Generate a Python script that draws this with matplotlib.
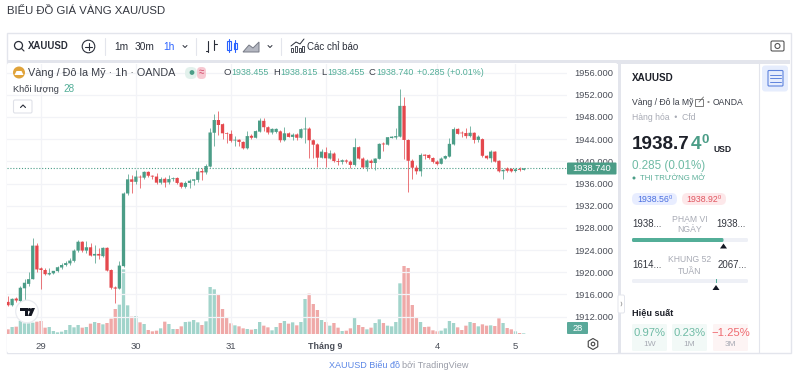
import matplotlib
matplotlib.use("Agg")
import matplotlib.pyplot as plt
from matplotlib.patches import Rectangle, FancyBboxPatch, Circle, Polygon, RegularPolygon

plt.rcParams['font.family'] = ['Liberation Sans', 'DejaVu Sans']

# ---------- data ----------
opens = [1914.65,1914.05,1915.25,1914.8,1917.1,1917.9,1918.75,1924.8,1920.7,1920.4,
 1919.6,1919.8,1920.2,1920.85,1921.3,1921.6,1922.05,1923.9,1925.5,1923.9,
 1924.5,1923.0,1923.3,1922.9,1924.4,1920.4,1917.25,1917.05,1921.1,1934.2,
 1936.75,1936.3,1937.2,1937.05,1938.1,1937.4,1937.25,1936.15,1936.85,1936.2,
 1936.8,1937.0,1936.15,1935.4,1936.1,1936.5,1936.65,1938.25,1938.0,1939.05,
 1945.15,1947.45,1946.7,1945.05,1944.95,1943.75,1943.9,1943.5,1942.35,1944.6,
 1944.25,1945.35,1947.3,1946.15,1945.2,1945.3,1945.4,1943.8,1945.05,1944.4,
 1944.85,1944.25,1945.75,1945.9,1943.8,1943.05,1940.65,1941.65,1940.5,1941.4,
 1940.05,1939.9,1940.15,1939.95,1939.35,1942.55,1940.5,1938.9,1940.1,1939.7,
 1940.45,1943.2,1943.0,1944.2,1944.3,1944.45,1950.0,1943.85,1940.1,1938.85,
 1938.2,1941.2,1941.15,1940.6,1939.95,1939.55,1940.5,1940.85,1943.05,1945.85,
 1945.15,1945.1,1944.55,1945.15,1943.85,1944.0,1941.0,1940.55,1941.75,1940.1,
 1938.2,1938.7,1938.65,1938.25,1938.6,1938.455]
highs = [1915.7,1915.4,1915.55,1917.5,1918.7,1920.1,1926.1,1925.2,1921.0,1920.7,
 1920.7,1920.3,1921.1,1921.6,1922.0,1922.5,1924.1,1925.9,1925.7,1925.7,
 1925.3,1924.9,1924.3,1924.6,1924.6,1920.5,1917.5,1922.0,1934.5,1937.7,
 1937.5,1938.4,1937.5,1938.3,1938.2,1937.5,1937.85,1937.25,1937.1,1937.5,
 1937.2,1937.1,1936.3,1936.5,1936.8,1936.9,1938.75,1938.75,1939.5,1946.0,
 1948.6,1949.15,1946.85,1945.2,1945.65,1944.55,1943.95,1943.7,1945.5,1944.9,
 1945.65,1947.75,1947.8,1946.4,1945.95,1946.0,1945.65,1946.25,1945.35,1945.15,
 1945.05,1945.95,1947.95,1946.25,1943.95,1943.25,1942.2,1942.5,1942.05,1941.65,
 1940.55,1940.5,1940.4,1940.25,1944.15,1942.75,1940.75,1940.35,1940.5,1940.6,
 1943.25,1943.55,1944.45,1944.55,1945.95,1953.1,1951.55,1944.0,1940.35,1939.35,
 1941.55,1941.35,1941.35,1940.75,1940.15,1940.7,1941.15,1944.15,1946.25,1946.0,
 1945.55,1945.95,1946.4,1945.35,1944.7,1944.15,1941.15,1942.05,1941.85,1940.25,
 1938.7,1939.05,1938.85,1938.85,1938.9,1938.815]
lows = [1913.9,1913.9,1914.6,1914.6,1915.0,1917.5,1918.7,1920.1,1917.0,1919.5,
 1919.5,1919.65,1920.1,1920.65,1921.1,1921.3,1921.9,1923.7,1923.7,1923.5,
 1922.9,1921.7,1922.4,1922.8,1920.25,1916.9,1914.45,1916.9,1921.0,1933.9,
 1934.2,1935.9,1935.1,1936.9,1937.25,1936.75,1935.9,1935.9,1935.45,1935.9,
 1936.5,1935.9,1935.25,1935.1,1935.1,1935.75,1936.35,1936.65,1937.7,1939.0,
 1942.7,1944.75,1944.1,1943.25,1943.5,1942.75,1942.75,1942.2,1942.2,1944.05,
 1944.15,1945.3,1945.55,1944.95,1944.95,1945.1,1943.4,1943.6,1944.3,1943.85,
 1943.85,1944.15,1943.25,1940.55,1940.55,1939.05,1940.55,1939.05,1940.4,1939.95,
 1939.35,1939.5,1939.65,1938.75,1939.15,1940.35,1938.75,1938.3,1938.75,1938.45,
 1940.35,1941.95,1942.9,1944.15,1944.1,1944.35,1940.4,1934.55,1936.75,1937.7,
 1937.4,1940.35,1940.5,1939.75,1939.4,1939.45,1940.35,1940.7,1942.95,1944.85,
 1944.3,1944.15,1944.45,1943.25,1943.55,1940.85,1940.35,1939.95,1939.8,1938.15,
 1936.8,1938.05,1938.05,1938.1,1938.25,1938.455]
closes = [1914.05,1915.2,1914.9,1917.2,1918.1,1918.75,1924.8,1920.5,1920.4,1919.65,
 1919.85,1920.25,1920.9,1921.3,1921.65,1922.1,1923.9,1925.5,1923.9,1924.5,
 1923.0,1923.3,1923.0,1924.4,1920.3,1917.2,1917.05,1921.2,1934.2,1936.75,
 1936.3,1937.25,1937.1,1938.1,1937.4,1937.25,1936.15,1936.8,1936.15,1936.8,
 1936.95,1936.1,1935.4,1936.1,1936.5,1936.75,1938.15,1938.0,1939.15,1945.2,
 1947.45,1946.55,1945.05,1944.95,1943.7,1943.9,1943.5,1942.35,1944.55,1944.25,
 1945.45,1947.35,1946.15,1945.2,1945.85,1945.85,1943.8,1945.05,1944.4,1944.8,
 1944.25,1945.8,1945.9,1943.8,1943.0,1940.65,1941.75,1940.55,1941.45,1940.05,
 1939.9,1940.2,1939.95,1939.35,1942.55,1940.5,1938.9,1940.15,1939.7,1940.5,
 1943.15,1943.05,1944.35,1944.45,1944.55,1950.0,1943.85,1940.1,1938.85,1938.2,
 1941.15,1941.0,1940.6,1939.9,1939.5,1940.5,1940.95,1943.15,1945.8,1944.95,
 1945.05,1944.55,1945.15,1943.85,1944.45,1941.0,1940.55,1941.75,1939.95,1938.2,
 1938.45,1938.3,1938.2,1938.55,1938.45,1938.74]
volumes = [196,294,308,560,448,448,476,518,546,266,
 294,126,70,98,168,378,280,378,266,294,
 434,504,462,406,462,644,1050,1232,2716,1204,
 728,756,490,420,168,112,140,238,518,420,
 210,210,322,504,518,588,490,378,532,1974,
 1876,1652,1050,672,448,364,322,238,210,182,
 210,504,350,280,154,294,462,546,434,490,
 364,504,1470,1694,1260,1008,588,504,350,462,
 266,126,140,238,672,378,294,196,266,462,
 616,462,350,322,504,2128,2856,2772,1218,714,
 504,294,308,154,112,140,238,546,462,280,
 168,350,504,462,322,406,350,364,336,658,
 462,252,196,112,42,28]
price_ticks = [1912,1916,1920,1924,1928,1932,1936,1940,1944,1948,1952,1956]
date_tick_index = [8,31,54,77,104,123]
date_tick_labels = ['29','30','31','Tháng 9','4','5']
last_price = 1938.74
last_volume = 28

# ---------- colours ----------
UP='#4b9d87'; DOWN='#e4484d'; UPV='#a2d4cb'; DOWNV='#efa9a8'
GRID='#f2f3f7'; BORDER='#e3e5ec'; DARK='#2a2e39'; GRAY='#a8abb5'; TXT='#4a4e58'; TEAL='#53ae98'; BLUE='#2962ff'

W,H=800,381
fig=plt.figure(figsize=(W/100,H/100),dpi=100,facecolor='white')
def rect(x0,y0,x1,y1):
    return [x0/W,1-y1/H,(x1-x0)/W,(y1-y0)/H]

# ---------- chart ----------
ax=fig.add_axes(rect(7,64,567,334),zorder=2)
ax.set_facecolor('none')
ax.set_xlim(-0.242,135.5)
ax.set_ylim(1908.86,1957.55)
n=range(len(opens))
axv=ax.twinx()
axv.set_zorder(1)
axv.set_ylim(0,11340)
axv.axis('off')
for s in ax.spines.values(): s.set_visible(False)
ax.yaxis.tick_right()
ax.set_yticks(price_ticks)
ax.set_yticklabels([f'{p:.3f}' for p in price_ticks],fontsize=6.7,color=TXT)
ax.set_xticks(date_tick_index)
ax.set_xticklabels(date_tick_labels,fontsize=6.8,color=TXT)
ax.get_xticklabels()[3].set_fontweight('bold')
ax.get_xticklabels()[3].set_fontsize(6.4)
ax.tick_params(length=0,pad=5,axis='y')
ax.tick_params(length=0,pad=5.5,axis='x')
ax.grid(True,color=GRID,lw=0.9,zorder=0)
ax.set_axisbelow(True)
ax.patch.set_visible(False)
vcol=[UPV if c>=o else DOWNV for o,c in zip(opens,closes)]
for b in axv.bar(list(n),volumes,width=0.8,color=vcol,linewidth=0):
    b.set_snap(False)

ccol=[UP if c>=o else DOWN for o,c in zip(opens,closes)]
ax.vlines(list(n),lows,highs,colors=ccol,lw=0.65,zorder=3,alpha=0.8)
for b in ax.bar(list(n),[max(abs(c-o),0.12) for o,c in zip(opens,closes)],
       bottom=[min(o,c) for o,c in zip(opens,closes)],width=0.8,color=ccol,linewidth=0,zorder=4):
    b.set_snap(False)
ax.axhline(last_price,color=UP,lw=0.8,ls=(0,(1,1.6)),zorder=2)

# ---------- chrome (pixel coordinates) ----------
ov=fig.add_axes([0,0,1,1],zorder=5)
ov.set_xlim(0,W); ov.set_ylim(H,0); ov.axis('off'); ov.patch.set_visible(False)
und=fig.add_axes([0,0,1,1],zorder=0)
und.set_xlim(0,W); und.set_ylim(H,0); und.axis('off')

def T(x,y,s,size=7.6,color=TXT,weight='normal',ha='left',a=ov):
    return a.text(x,y,s,fontsize=size,color=color,fontweight=weight,ha=ha,va='center')
def R(x0,y0,x1,y1,fc,a=und,ec='none',lw=0,rad=0):
    if rad:
        p=FancyBboxPatch((x0+rad,y0+rad),x1-x0-2*rad,y1-y0-2*rad,boxstyle=f'round,pad={rad},rounding_size={rad}',fc=fc,ec=ec,lw=lw)
    else:
        p=Rectangle((x0,y0),x1-x0,y1-y0,fc=fc,ec=ec,lw=lw)
    a.add_patch(p); return p
def L(xs,ys,c=DARK,lw=0.8,a=ov):
    a.plot(xs,ys,color=c,lw=lw,solid_capstyle='round')

# frame
R(6.5,32.5,790.5,353,'white',ec=BORDER,lw=1)
R(7,60,790,63.5,'#e3e5ec')
R(617.5,60,621,353,'#e3e5ec')
R(7,63,617.5,353,'white',rad=2)
L([759,759],[63,353],BORDER,0.8,und)

# title + footer
T(7,11,'BIỂU ĐỒ GIÁ VÀNG XAU/USD',8.2,'#33363f')
T(329,365.5,'XAUUSD Biểu đồ',6.5,'#5a86e6')
T(402.5,365.5,'bởi TradingView',6.6,'#9a9da8')

# toolbar
ov.add_patch(Circle((18.5,45.5),4,fc='none',ec=DARK,lw=0.9)); L([21.5,24],[48.5,51])
T(28,46,'XAUUSD',6.9,DARK,'bold')
ov.add_patch(Circle((88.5,46.5),6.3,fc='none',ec=DARK,lw=0.8)); L([85,92],[46.5,46.5]); L([88.5,88.5],[43,50])
T(114,46.5,'1m',7.3,DARK); T(135,46.5,'30m',7.3,DARK); T(163,46.5,'1h',7.3,BLUE)
L([183,185,187],[45.5,47.5,45.5],DARK,0.7)
L([105,105],[38,55],BORDER,0.8); L([196,196],[38,55],BORDER,0.8); L([280.5,280.5],[38,55],BORDER,0.8)
L([208,208],[41,52]); L([205.5,208],[51,51]); L([214,214],[40,50]); L([214,216.5],[44,44])
R(227,41,231,50,'none',a=ov,ec=BLUE,lw=0.8); L([229,229],[39,52],BLUE,0.8)
R(233.5,43,236.5,49,'none',a=ov,ec=BLUE,lw=0.8); L([235,235],[40,52],BLUE,0.8)
ov.add_patch(Polygon([(243,52),(249,45),(253,48),(259,42),(259,52)],fc='#b4b7c1',ec='#777b86',lw=0.7))
L([268,270,272],[45.5,47.5,45.5],DARK,0.7)
L([291,296,300,304],[46,42,44,39],DARK,0.7)
for xx,yy in [(291,48),(295,46),(299,47.5),(302,45.5)]:
    R(xx,yy,xx+2.4,52,'none',a=ov,ec=DARK,lw=0.6)
T(307,46.5,'Các chỉ báo',7.0,DARK)
R(771,41,784,51,'none',a=ov,ec='#555',lw=0.8,rad=1.5)
ov.add_patch(Circle((777.5,46),2.5,fc='none',ec='#555',lw=0.8))

# legend
ov.add_patch(Circle((19,72.5),6,fc='#e0a33a',ec='none'))
ov.add_patch(Polygon([(14.5,75),(23.5,75),(21.5,71),(16.5,71)],fc='white',ec='none'))
T(28,72.5,'Vàng / Đô la Mỹ · 1h · OANDA',7.8,'#3a3e48')
R(185,67,197,79,'#e2f1ec',a=ov,rad=5.5); R(197,67,206,79,'#f7c9d2',a=ov,rad=4)
ov.add_patch(Circle((192,72.5),2.4,fc=UP,ec='none'))
T(201.5,72.5,'≈',7,'#d34a6a',ha='center')
for kx,k,vx,v in [(223,'O',231.7,'1938.455'),(272.8,'H',280,'1938.815'),(321,'L',327.3,'1938.455'),(368.7,'C',376,'1938.740')]:
    T(kx,72.5,k,6.8,'#3a3e48'); T(vx,72.5,v,6.4,TEAL)
T(417,72.5,'+0.285 (+0.01%)',6.4,TEAL)
T(13,89,'Khối lượng',6.7,'#3a3e48'); T(63,89,'28',7.2,TEAL)
R(13.5,100,32,113,'white',a=ov,ec='#dfe1e8',lw=0.8,rad=1.5)
L([20.5,23,25.5],[107.5,105,107.5],DARK,0.8)

# TV logo
ov.add_patch(Circle((27,311.5),11.3,fc='white',ec='#e9ebf0',lw=0.9))
ov.add_patch(Polygon([(20,308),(27.5,308),(27.5,316),(24.5,316),(24.5,311),(20,311)],fc='#131722'))
ov.add_patch(Circle((29.5,309.7),1.7,fc='#131722'))
ov.add_patch(Polygon([(31.5,308),(35,308),(31.5,316),(28,316)],fc='#131722'))

# price labels
R(567,162.5,616.5,174.5,UP,a=ov,rad=1)
T(592,168.7,'1938.740',6.7,'white',ha='center')
R(567,322,588,334,'#5aa99a',a=ov,rad=1)
T(577.5,328.2,f'{last_volume}',6.7,'white',ha='center')
ov.add_patch(RegularPolygon((593,344),6,radius=5.5,fc='none',ec='#444',lw=0.8))
ov.add_patch(Circle((593,344),1.8,fc='none',ec='#444',lw=0.8))

# right panel
T(632,78,'XAUUSD',7.1,'#1d2029','bold')
T(632,102.5,'Vàng / Đô la Mỹ',6.2,'#3a3e48')
R(695,98.5,702.5,106,'none',a=ov,ec='#666',lw=0.6); L([699,703.5],[102,97],'#666',0.6)
T(706.5,102.5,'•',6,'#888'); T(713,102.5,'OANDA',6.2,'#3a3e48')
T(632,117,'Hàng hóa  •  Cfd',6.2,GRAY)
T(632,144.5,'1938.7',13.6,'#1d2029','bold')
T(690.5,144.5,'4',13.6,UP,'bold')
T(701.5,140,'0',9.6,UP,'bold')
T(713,150,'USD',6.2,'#1d2029','bold')
T(632,165.5,'0.285 (0.01%)',8.4,'#6fbba5')
ov.add_patch(Circle((634,178),1.5,fc=UP,ec='none'))
T(639.5,178,'THỊ TRƯỜNG MỞ',5.6,'#5aae98')
R(632,193,677,205,'#e8edff',a=ov,rad=5.5)
R(682,193,726,205,'#fde8ea',a=ov,rad=5.5)
T(654.5,199,'1938.56⁰',6.3,'#4a6fe0',ha='center')
T(704,199,'1938.92⁰',6.3,'#e0555f',ha='center')
# ranges
T(632,224,'1938...',6.9,'#33363f'); T(716.5,224,'1938...',6.9,'#33363f')
T(689.5,219,'PHẠM VI',6.2,GRAY,ha='center'); T(689.5,230,'NGÀY',6.2,GRAY,ha='center')
R(632,238,748,242,'#eef0f6',a=ov,rad=1.5)
R(632,238,723.5,242,TEAL,a=ov,rad=1.5)
ov.add_patch(Polygon([(723.5,243.5),(727,248.5),(720,248.5)],fc='#131722'))
T(632,265.5,'1614...',6.9,'#33363f'); T(717.5,265.5,'2067...',6.9,'#33363f')
T(689.5,260,'KHUNG 52',6.2,GRAY,ha='center'); T(689.5,271,'TUẦN',6.2,GRAY,ha='center')
R(632,279,748,283,'#eef0f6',a=ov,rad=1.5)
R(716,279,717,283,TEAL,a=ov)
ov.add_patch(Polygon([(716,285),(719.5,290),(712.5,290)],fc='#131722'))
R(618,295,624.5,313,'white',a=ov,ec=BORDER,lw=0.7,rad=1.5)
L([621,622,621],[302,304,306],'#888',0.5)
T(632,312.5,'Hiệu suất',6.6,'#1d2029','bold')
for x0,x1,val,lab,bg,col in [(632,667,'0.97%','1W','#f2f9f7','#6fbba5'),
                             (672,707,'0.23%','1M','#f2f9f7','#6fbba5'),
                             (713,748,'−1.25%','3M','#fdf4f4','#ef6a70')]:
    R(x0,324,x1,351,bg,a=ov,rad=1.5)
    T((x0+x1)/2,332.5,val,8.1,col,ha='center')
    T((x0+x1)/2,345,lab,6.0,GRAY,ha='center')
# list icon
R(762,65.5,788,91.5,'#e6edfd',a=ov,rad=3)
R(768,70.5,783,86,'none',a=ov,ec='#5f83dd',lw=0.8,rad=1)
for yy in [74.5,78.3,82]:
    L([770,781],[yy,yy],'#5f83dd',0.7)

fig.savefig('out.png',dpi=100)
